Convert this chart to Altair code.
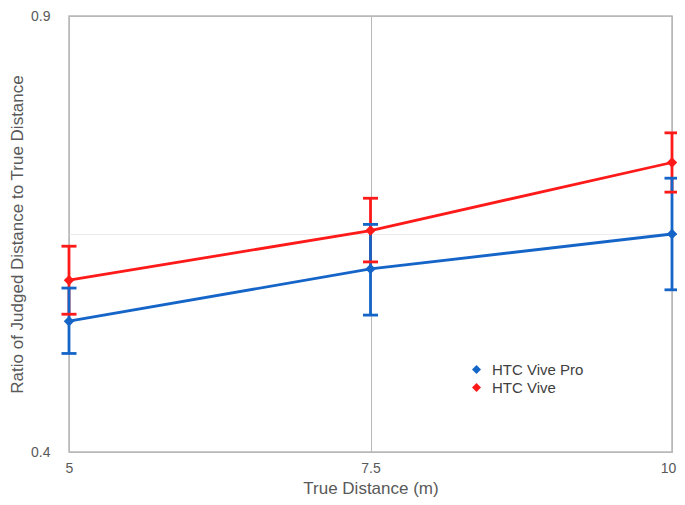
import altair as alt
import pandas as pd

distances = [5, 7.5, 10]
series_names = ["HTC Vive Pro", "HTC Vive"]
pro_mean = [0.550, 0.610, 0.650]
pro_low = [0.513, 0.557, 0.586]
pro_high = [0.588, 0.661, 0.714]
vive_mean = [0.597, 0.654, 0.732]
vive_low = [0.558, 0.618, 0.698]
vive_high = [0.636, 0.691, 0.766]
x_ticks = [5, 7.5, 10]
y_ticks = [0.4, 0.65, 0.9]

rows = []
for name, m, lo, hi in [("HTC Vive", vive_mean, vive_low, vive_high),
                        ("HTC Vive Pro", pro_mean, pro_low, pro_high)]:
    for d, a, b, c in zip(distances, m, lo, hi):
        rows.append({"series": name, "dist": d, "mean": a, "low": b, "high": c})
df = pd.DataFrame(rows)

FONT = "Liberation Sans"
GREY = "#595959"
BORDER = "#b8b8b8"
H = 436

color = alt.Color("series:N",
                  scale=alt.Scale(domain=series_names, range=["#1565c8", "#ff1a1a"]),
                  legend=alt.Legend(title=None, orient="none", legendX=400, legendY=346,
                                    symbolType="diamond", symbolSize=80, labelFontSize=15,
                                    labelColor="#404040", labelFont=FONT, padding=0,
                                    symbolStrokeWidth=0, labelOffset=8, rowPadding=2))

xenc = alt.X("dist:Q", scale=alt.Scale(domain=[5, 10], nice=False, zero=False),
             axis=alt.Axis(values=x_ticks, format="~g", title="True Distance (m)", grid=True,
                           gridColor=BORDER, gridWidth=1, ticks=False, domain=False,
                           labelFlush=False, labelPadding=9, labelFontSize=14,
                           labelOffset=alt.condition("datum.value == 10", alt.value(-4), alt.value(0)),
                           labelColor=GREY, labelFont=FONT, titleFont=FONT,
                           titleFontSize=17, titleFontWeight="normal", titleColor=GREY,
                           titleX=301.5, titleY=36, titleBaseline="middle",
                           titleAlign="center"))

yenc = alt.Y("mean:Q", scale=alt.Scale(domain=[0.4, 0.9], nice=False, zero=False),
             axis=alt.Axis(values=y_ticks, format="~g",
                           title="Ratio of Judged Distance to True Distance",
                           grid=True,
                           gridColor=alt.condition("datum.value == 0.65", alt.value("#ececec"), alt.value(BORDER)),
                           ticks=False, domain=False, labelFlush=False, labelPadding=19,
                           labelExpr="datum.value == 0.65 ? '' : datum.label",
                           labelFontSize=14, labelColor=GREY, labelFont=FONT,
                           titleFont=FONT, titleFontSize=17, titleFontWeight="normal",
                           titleColor=GREY, titleAngle=-90, titleX=-52, titleY=H / 2,
                           titleBaseline="middle", titleAlign="center"))

base = alt.Chart(df)

lines = base.mark_line(strokeWidth=2.8).encode(x=xenc, y=yenc, color=color,
                                               detail="series:N")
points = base.mark_point(shape="diamond", filled=True, size=110, opacity=1).encode(
    x="dist:Q", y="mean:Q", color=alt.Color("series:N", legend=None))
bars = base.mark_rule(strokeWidth=2.8).encode(
    x="dist:Q", y="low:Q", y2="high:Q", color=alt.Color("series:N", legend=None))
cap_lo = base.mark_tick(orient="horizontal", size=15, thickness=2.8, opacity=1).encode(
    x="dist:Q", y="low:Q", color=alt.Color("series:N", legend=None))
cap_hi = base.mark_tick(orient="horizontal", size=15, thickness=2.8, opacity=1).encode(
    x="dist:Q", y="high:Q", color=alt.Color("series:N", legend=None))

chart = alt.layer(lines, bars, cap_lo, cap_hi, points).properties(
    width=603, height=H,
    autosize=alt.AutoSizeParams(type="none"),
    padding={"left": 61, "top": 8, "right": 5, "bottom": 45},
).configure_view(stroke=BORDER, strokeWidth=1.5)

chart.save("out.html", embed_options={"renderer": "svg", "actions": False})
